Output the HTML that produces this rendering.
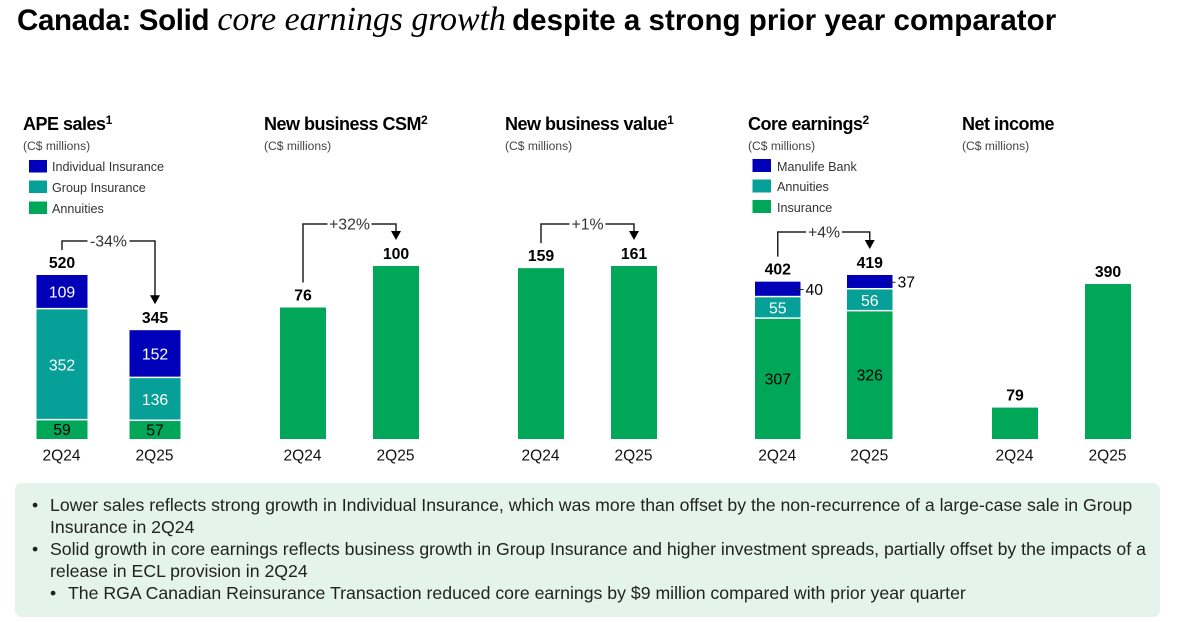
<!DOCTYPE html>
<html lang="en">
<head>
<meta charset="utf-8">
<title>Canada: Solid core earnings growth</title>
<style>
html,body{margin:0;padding:0;background:#fff;}
#page{position:relative;width:1180px;height:622px;overflow:hidden;background:#fff;font-family:"Liberation Sans",sans-serif;color:#000;}
#title{position:absolute;left:17px;top:2px;font-size:29.5px;font-weight:bold;line-height:36px;white-space:nowrap;}
#title .lead{letter-spacing:-.35px;}
#title i{font-family:"Liberation Serif",serif;font-weight:normal;font-size:33.8px;letter-spacing:0;}
#title .rest{margin-left:-2px;letter-spacing:.04px;}
#chart{position:absolute;left:0;top:0;}
#notes{position:absolute;left:15px;top:483px;width:1145px;height:134px;background:#e4f3ec;border-radius:7px;}
#notes div{position:absolute;white-space:nowrap;font-size:17.68px;line-height:22px;color:#222;}
svg text{font-family:"Liberation Sans",sans-serif;}
.hd{font-size:18px;font-weight:bold;letter-spacing:-.5px;fill:#000;}
.sb{font-size:12.1px;fill:#444;}
.lg{font-size:12.6px;fill:#333;}
</style>
</head>
<body>
<div id="page">
<div id="title"><span class="lead">Canada: Solid</span> <i>core earnings growth</i> <span class="rest">despite a strong prior year comparator</span></div>
<svg id="chart" width="1180" height="480" viewBox="0 0 1180 480">
  <text class="hd" x="23" y="130">APE sales<tspan font-size="12" dy="-6">1</tspan></text>
  <text class="sb" x="23" y="150">(C$ millions)</text>
  <text class="hd" x="264" y="130">New business CSM<tspan font-size="12" dy="-6">2</tspan></text>
  <text class="sb" x="264" y="150">(C$ millions)</text>
  <text class="hd" x="505" y="130">New business value<tspan font-size="12" dy="-6">1</tspan></text>
  <text class="sb" x="505" y="150">(C$ millions)</text>
  <text class="hd" x="748" y="130">Core earnings<tspan font-size="12" dy="-6">2</tspan></text>
  <text class="sb" x="748" y="150">(C$ millions)</text>
  <text class="hd" x="962" y="130">Net income</text>
  <text class="sb" x="962" y="150">(C$ millions)</text>

  <rect x="29" y="160" width="18" height="12.5" fill="#0000b8"/>
  <text class="lg" x="52" y="171">Individual Insurance</text>
  <rect x="29" y="180.500" width="18" height="12.5" fill="#07a098"/>
  <text class="lg" x="52" y="192">Group Insurance</text>
  <rect x="29" y="201.500" width="18" height="12.5" fill="#00a758"/>
  <text class="lg" x="52" y="213">Annuities</text>

  <rect x="752.500" y="159" width="18.500" height="13" fill="#0000b8"/>
  <text class="lg" x="777" y="171">Manulife Bank</text>
  <rect x="752.500" y="179.500" width="18.500" height="13" fill="#07a098"/>
  <text class="lg" x="777" y="191">Annuities</text>
  <rect x="752.500" y="200" width="18.500" height="13" fill="#00a758"/>
  <text class="lg" x="777" y="212">Insurance</text>
  <g id="marks"></g>
</svg>
<div id="notes">
  <div style="left:17px;top:11px">•</div>
  <div style="left:35px;top:11px">Lower sales reflects strong growth in Individual Insurance, which was more than offset by the non-recurrence of a large-case sale in Group</div>
  <div style="left:35px;top:33px">Insurance in 2Q24</div>
  <div style="left:17px;top:55px">•</div>
  <div style="left:35px;top:55px">Solid growth in core earnings reflects business growth in Group Insurance and higher investment spreads, partially offset by the impacts of a</div>
  <div style="left:35px;top:77px">release in ECL provision in 2Q24</div>
  <div style="left:35px;top:99px">•</div>
  <div style="left:53px;top:99px">The RGA Canadian Reinsurance Transaction reduced core earnings by $9 million compared with prior year quarter</div>
</div>
</div>
<script>
const categories = ['2Q24', '2Q25'];
const apeAnnuities = [59, 57];
const apeGroup = [352, 136];
const apeIndividual = [109, 152];
const csmValues = [76, 100];
const nbvValues = [159, 161];
const coreInsurance = [307, 326];
const coreAnnuities = [55, 56];
const coreBank = [40, 37];
const netIncomeValues = [79, 390];
const changeLabels = ['-34%', '+32%', '+1%', '+4%'];

const NS = 'http://www.w3.org/2000/svg';
const marks = document.getElementById('marks');
const BASE = 439;
const GREEN = '#00a758', TEAL = '#07a098', BLUE = '#0000b8';

function yAxis(domainMax, rangePx) {
  return function (v) { return BASE - v / domainMax * rangePx; };
}
function make(tag, attrs, text) {
  const el = document.createElementNS(NS, tag);
  for (const k in attrs) el.setAttribute(k, attrs[k]);
  if (text !== undefined) el.textContent = text;
  marks.appendChild(el);
  return el;
}
function sum(list, i) {
  return list.reduce(function (a, s) { return a + s.values[i]; }, 0);
}
function drawPanel(p) {
  const y = p.y;
  const tops = [];
  categories.forEach(function (cat, i) {
    const x = p.xs[i];
    const cx = x + p.w / 2;
    let acc = 0;
    p.series.forEach(function (s, si) {
      const y0 = y(acc), y1 = y(acc + s.values[i]);
      acc += s.values[i];
      const gap = si > 0 ? 1.5 : 0;
      const rect = make('rect', { x: x, y: y1, width: p.w, height: Math.max(0, y0 - y1 - gap), fill: s.color });
      
      
      if (p.series.length > 1) {
        const mid = (y0 + y1) / 2;
        const outside = s.outside;
        const lbl = make('text', {
          x: outside ? x + p.w + outside[i] : cx,
          y: mid + 5.5,
          'text-anchor': outside ? 'start' : 'middle',
          'font-size': 15.8,
          fill: outside ? '#000' : s.labelColor
        }, s.values[i]);
        
        
        if (outside) {
          const tick = make('line', { x1: x + p.w - 6, x2: x + p.w + outside[i] - 2, y1: mid, y2: mid, stroke: '#222', 'stroke-width': 1 });
          
          
        }
      }
    });
    const top = y(sum(p.series, i));
    tops.push(top);
    const total = make('text', { x: cx, y: top - 7, 'text-anchor': 'middle', 'font-size': 15.8, 'font-weight': 'bold', fill: '#000' }, sum(p.series, i));
    
    
    const catLabel = make('text', { x: cx - 0.5, y: 460.5, 'text-anchor': 'middle', 'font-size': 15.5, fill: '#111' }, cat);
    
    
  });
  if (p.change) {
    const xa = p.xs[0] + p.w / 2, xb = p.xs[1] + p.w / 2;
    const by = p.bracketY;
    const tipY = tops[1] - 26;
    const path = make('path', {
      d: 'M' + xa + ' ' + (tops[0] - 25) + 'V' + by + 'H' + (p.labelX - p.labelGap) +
         'M' + (p.labelX + p.labelGap) + ' ' + by + 'H' + xb + 'V' + (tipY - 7),
      fill: 'none', stroke: '#222', 'stroke-width': 1.5
    });
    
    
    const head = make('path', { d: 'M' + (xb - 5) + ' ' + (tipY - 9) + 'H' + (xb + 5) + 'L' + xb + ' ' + tipY + 'Z', fill: '#000' });
    
    
    const lab = make('text', { x: p.labelX, y: by + 5.5, 'text-anchor': 'middle', 'font-size': 15.8, fill: '#333' }, p.change);
    
    
  }
}

drawPanel({
  id: 'ape-sales', xs: [36.5, 129.5], w: 51, y: yAxis(520, 164),
  series: [
    { id: 'annuities', values: apeAnnuities, color: GREEN, labelColor: '#000' },
    { id: 'group-insurance', values: apeGroup, color: TEAL, labelColor: '#fff' },
    { id: 'individual-insurance', values: apeIndividual, color: BLUE, labelColor: '#fff' }
  ],
  change: changeLabels[0], bracketY: 241, labelX: 108.5, labelGap: 21
});
drawPanel({
  id: 'new-business-csm', xs: [280, 373], w: 46, y: yAxis(100, 173),
  series: [{ id: 'total', values: csmValues, color: GREEN }],
  change: changeLabels[1], bracketY: 224, labelX: 349.500, labelGap: 22
});
drawPanel({
  id: 'new-business-value', xs: [518, 611], w: 46, y: yAxis(161, 173),
  series: [{ id: 'total', values: nbvValues, color: GREEN }],
  change: changeLabels[2], bracketY: 224, labelX: 587.500, labelGap: 18
});
drawPanel({
  id: 'core-earnings', xs: [755, 847], w: 45.5, y: yAxis(419, 164),
  series: [
    { id: 'insurance', values: coreInsurance, color: GREEN, labelColor: '#000' },
    { id: 'annuities', values: coreAnnuities, color: TEAL, labelColor: '#fff' },
    { id: 'manulife-bank', values: coreBank, color: BLUE, labelColor: '#000', outside: [5, 5] }
  ],
  change: changeLabels[3], bracketY: 232, labelX: 824, labelGap: 18
});
drawPanel({
  id: 'net-income', xs: [992, 1085], w: 46, y: yAxis(390, 155),
  series: [{ id: 'total', values: netIncomeValues, color: GREEN }]
});
</script>
</body>
</html>
